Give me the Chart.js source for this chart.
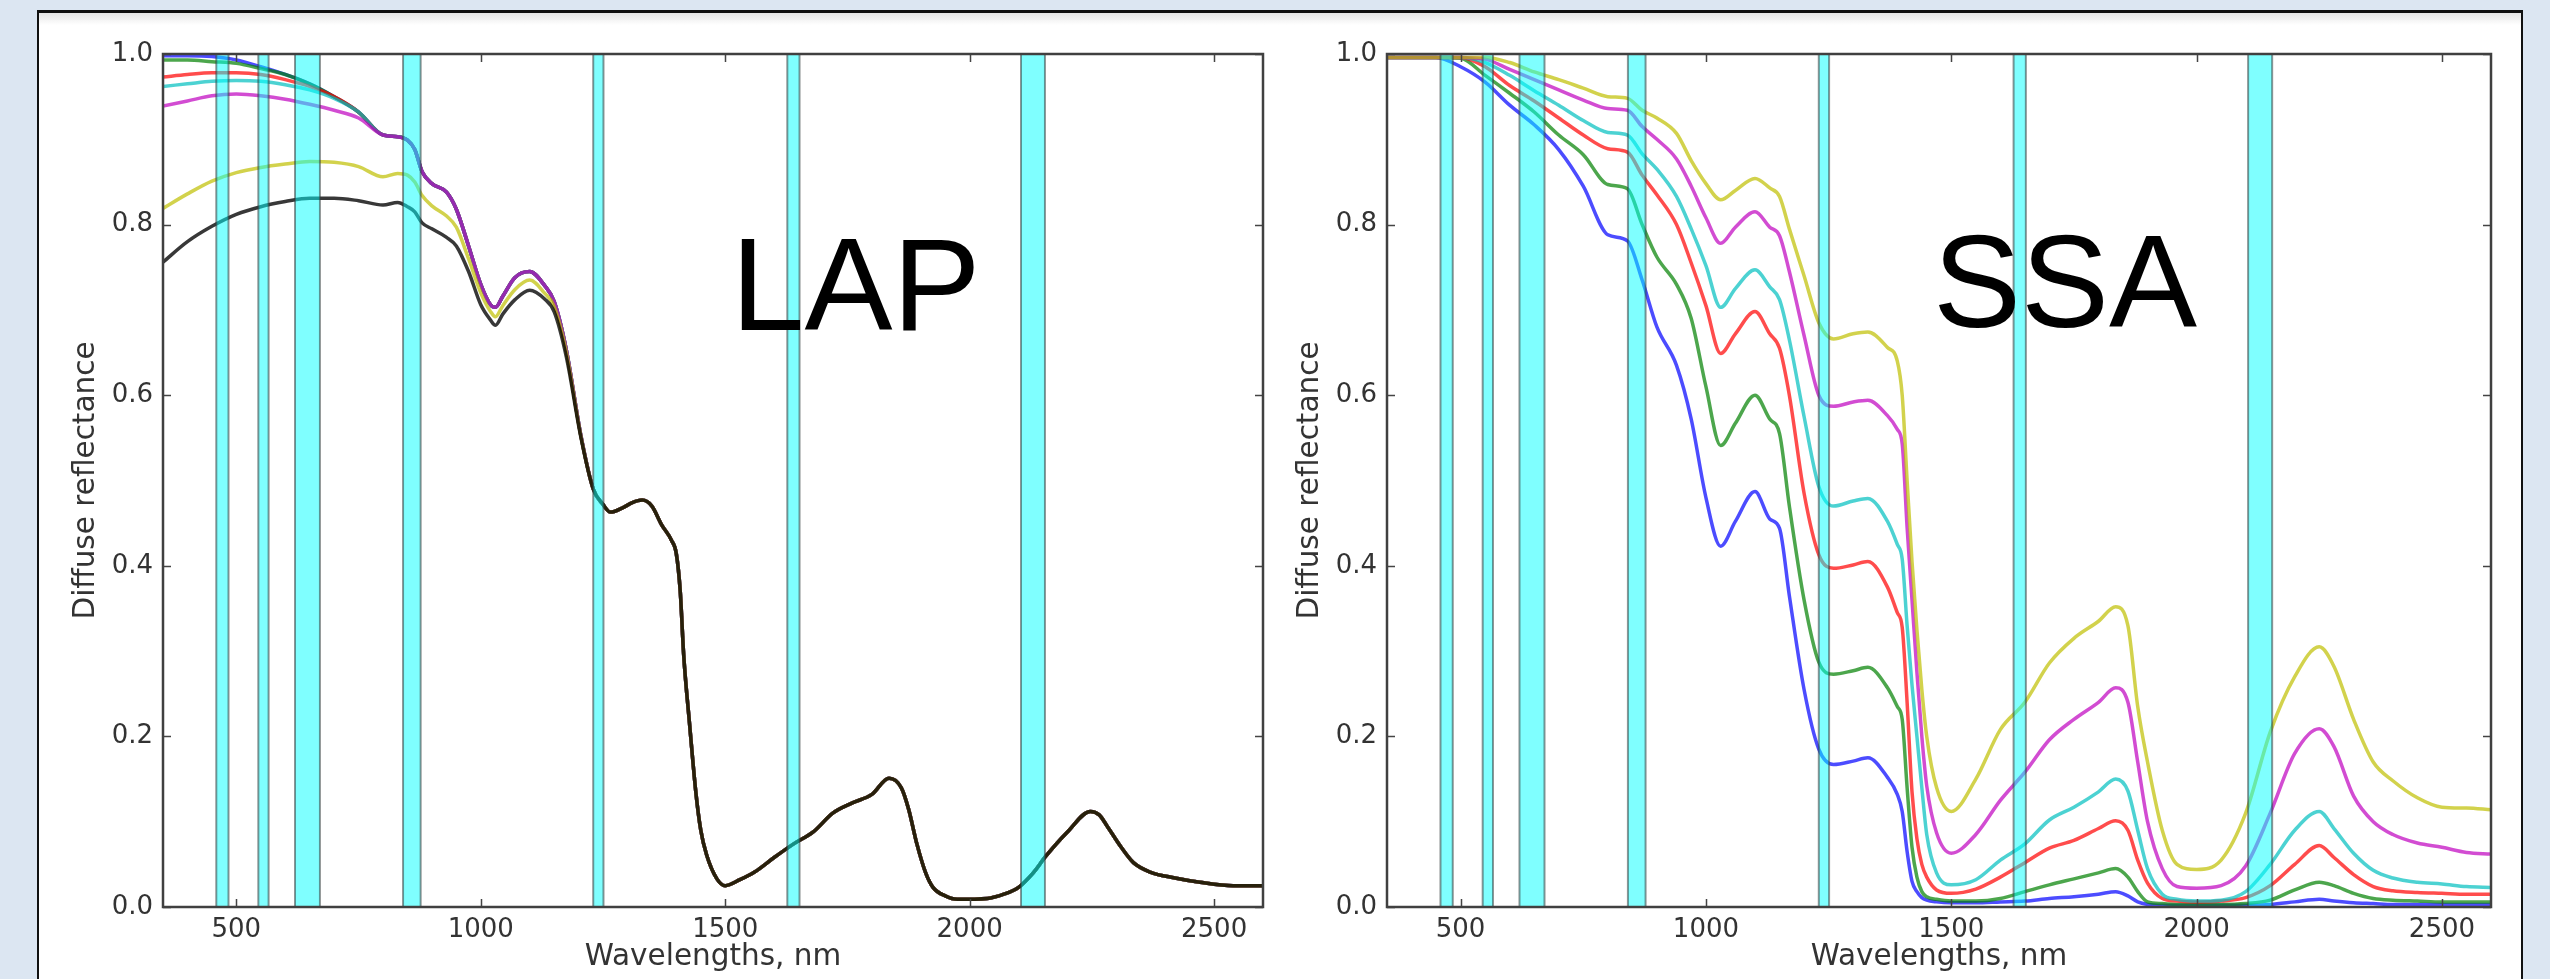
<!DOCTYPE html>
<html>
<head>
<meta charset="utf-8">
<script src="https://cdn.jsdelivr.net/npm/chart.js@4.4.1/dist/chart.umd.min.js"></script>
<style>
  html, body { margin: 0; padding: 0; }
  body { width: 2550px; height: 979px; overflow: hidden; background: #dce6f2; position: relative; }
  #panel { position: absolute; left: 37px; top: 10px; width: 2482px; height: 1000px;
           background: linear-gradient(#e6e6e6 0px, #ffffff 12px); border: 2px solid #111; border-top-width: 3px; }
  canvas { position: absolute; top: 20px; }
  #chartLAP { left: 40px; }
  #chartSSA { left: 1264px; }
  .tag { position: absolute; font-family: "Liberation Sans", Arial, sans-serif; font-size: 132px; line-height: 132px; color: #000; }
</style>
</head>
<body>
<div id="panel"></div>
<canvas id="chartLAP" width="1250" height="955"></canvas>
<canvas id="chartSSA" width="1254" height="955"></canvas>
<div class="tag" style="left:731px; top:219px;">LAP</div>
<div class="tag" style="left:1933px; top:216px;">SSA</div>

<script>
// Axes
const xTicks = [500, 1000, 1500, 2000, 2500];
const yTicks = [0, 0.2, 0.4, 0.6, 0.8, 1.0];

// MODIS-like bands (nm)
const bandLo = [459, 545, 620, 841, 1230, 1627, 2105];
const bandHi = [484, 566, 671, 877, 1251, 1652, 2154];

// LAP panel : visible part (curves differ)
const lapHeadWl = [350, 400, 450, 500, 550, 600, 650, 700, 750];
const lapBlueHead    = [0.998, 0.998, 0.997, 0.993, 0.985, 0.976, 0.965, 0.950, 0.932];
const lapGreenHead   = [0.993, 0.993, 0.991, 0.989, 0.983, 0.976, 0.965, 0.950, 0.932];
const lapRedHead     = [0.973, 0.976, 0.978, 0.978, 0.976, 0.970, 0.962, 0.950, 0.932];
const lapCyanHead    = [0.962, 0.965, 0.968, 0.969, 0.968, 0.964, 0.958, 0.948, 0.932];
const lapMagentaHead = [0.939, 0.945, 0.951, 0.953, 0.951, 0.947, 0.941, 0.934, 0.925];
const lapYellowHead  = [0.819, 0.836, 0.851, 0.861, 0.867, 0.871, 0.874, 0.873, 0.868];
const lapBlackHead   = [0.756, 0.780, 0.798, 0.812, 0.821, 0.827, 0.831, 0.831, 0.828];

// LAP panel : near infrared (three groups)
const lapMidWl = [800, 830, 850, 865, 880, 900, 930, 950, 975, 1000, 1020, 1030, 1045, 1070, 1100, 1130, 1150, 1175, 1205, 1230];
const lapBundleMid = [0.905, 0.903, 0.899, 0.888, 0.862, 0.848, 0.838, 0.818, 0.775, 0.730, 0.706, 0.703, 0.716, 0.738, 0.745, 0.729, 0.710, 0.653, 0.552, 0.490];
const lapYellowMid = [0.856, 0.860, 0.858, 0.850, 0.834, 0.822, 0.810, 0.797, 0.760, 0.720, 0.698, 0.692, 0.705, 0.724, 0.735, 0.720, 0.704, 0.650, 0.551, 0.490];
const lapBlackMid  = [0.823, 0.826, 0.821, 0.815, 0.802, 0.795, 0.785, 0.775, 0.745, 0.706, 0.688, 0.682, 0.695, 0.712, 0.723, 0.713, 0.698, 0.645, 0.550, 0.490];

// LAP panel : all curves on top of each other
const lapTailWl = [1250, 1265, 1290, 1310, 1330, 1350, 1370, 1390, 1400, 1408,
                   1415, 1427, 1440, 1450, 1462, 1483, 1500, 1530, 1560, 1600,
                   1640, 1680, 1720, 1760, 1800, 1835, 1860, 1875, 1892, 1910,
                   1925, 1950, 1975, 2036, 2070, 2100, 2130, 2155, 2200, 2247,
                   2265, 2281, 2310, 2335, 2369, 2420, 2471, 2539, 2600];
const lapTail = [0.472, 0.463, 0.468, 0.474, 0.477, 0.470, 0.448, 0.430, 0.414, 0.370,
                 0.296, 0.215, 0.134, 0.090, 0.061, 0.033, 0.025, 0.032, 0.041, 0.058,
                 0.074, 0.088, 0.110, 0.122, 0.132, 0.151, 0.140, 0.115, 0.074, 0.040,
                 0.023, 0.013, 0.009, 0.010, 0.015, 0.023, 0.040, 0.059, 0.088, 0.112,
                 0.108, 0.095, 0.070, 0.052, 0.041, 0.034, 0.029, 0.025, 0.025];

// SSA panel
const ssaWl = [350, 450, 500, 550, 600, 650, 700, 750, 800, 840,
               870, 900, 940, 970, 1000, 1030, 1060, 1100, 1130, 1150,
               1170, 1200, 1230, 1260, 1300, 1330, 1370, 1390, 1400, 1410,
               1420, 1430, 1440, 1450, 1470, 1500, 1550, 1600, 1650, 1700,
               1750, 1800, 1835, 1860, 1880, 1900, 1930, 1960, 2000, 2050,
               2100, 2150, 2200, 2250, 2280, 2320, 2360, 2400, 2450, 2500,
               2550, 2600];
const ssaBlue = [0.996, 0.996, 0.985, 0.967, 0.940, 0.917, 0.888, 0.845, 0.788, 0.781,
                 0.735, 0.680, 0.635, 0.572, 0.480, 0.423, 0.452, 0.487, 0.455, 0.444,
                 0.365, 0.255, 0.185, 0.167, 0.171, 0.175, 0.152, 0.132, 0.112, 0.065,
                 0.030, 0.018, 0.011, 0.008, 0.006, 0.005, 0.005, 0.006, 0.007, 0.010,
                 0.012, 0.015, 0.018, 0.013, 0.006, 0.003, 0.002, 0.002, 0.002, 0.002,
                 0.002, 0.003, 0.006, 0.009, 0.007, 0.005, 0.004, 0.003, 0.003, 0.003,
                 0.003, 0.003];
const ssaGreen = [0.996, 0.996, 0.995, 0.975, 0.954, 0.932, 0.905, 0.882, 0.847, 0.842,
                  0.800, 0.762, 0.730, 0.690, 0.610, 0.541, 0.567, 0.600, 0.572, 0.555,
                  0.470, 0.360, 0.287, 0.273, 0.277, 0.281, 0.257, 0.235, 0.220, 0.140,
                  0.070, 0.035, 0.018, 0.012, 0.009, 0.007, 0.007, 0.010, 0.018, 0.026,
                  0.033, 0.040, 0.045, 0.035, 0.018, 0.006, 0.004, 0.003, 0.003, 0.003,
                  0.004, 0.008, 0.020, 0.029, 0.025, 0.016, 0.010, 0.008, 0.007, 0.006,
                  0.006, 0.006];
const ssaRed = [0.996, 0.996, 0.996, 0.985, 0.963, 0.945, 0.925, 0.905, 0.889, 0.885,
                0.858, 0.835, 0.800, 0.755, 0.705, 0.649, 0.672, 0.698, 0.672, 0.655,
                0.600, 0.485, 0.413, 0.397, 0.401, 0.405, 0.375, 0.345, 0.328, 0.240,
                0.135, 0.080, 0.050, 0.035, 0.020, 0.016, 0.021, 0.035, 0.052, 0.069,
                0.078, 0.092, 0.101, 0.090, 0.055, 0.028, 0.010, 0.007, 0.006, 0.007,
                0.011, 0.025, 0.050, 0.072, 0.058, 0.038, 0.024, 0.019, 0.017, 0.016,
                0.015, 0.015];
const ssaCyan = [0.996, 0.996, 0.996, 0.990, 0.975, 0.957, 0.940, 0.922, 0.908, 0.905,
                 0.883, 0.865, 0.833, 0.795, 0.752, 0.703, 0.725, 0.747, 0.727, 0.712,
                 0.665, 0.575, 0.493, 0.470, 0.476, 0.479, 0.452, 0.425, 0.408, 0.330,
                 0.260, 0.200, 0.140, 0.085, 0.040, 0.026, 0.032, 0.055, 0.074, 0.102,
                 0.117, 0.135, 0.150, 0.136, 0.090, 0.045, 0.015, 0.009, 0.007, 0.008,
                 0.018, 0.050, 0.090, 0.112, 0.092, 0.063, 0.043, 0.034, 0.029, 0.027,
                 0.024, 0.023];
const ssaMagenta = [0.996, 0.996, 0.996, 0.994, 0.982, 0.970, 0.958, 0.946, 0.936, 0.934,
                    0.915, 0.900, 0.877, 0.845, 0.808, 0.778, 0.797, 0.815, 0.797, 0.787,
                    0.745, 0.670, 0.600, 0.587, 0.592, 0.594, 0.576, 0.560, 0.543, 0.445,
                    0.360, 0.275, 0.200, 0.142, 0.087, 0.063, 0.085, 0.125, 0.158, 0.196,
                    0.220, 0.240, 0.257, 0.240, 0.170, 0.100, 0.045, 0.024, 0.022, 0.025,
                    0.048, 0.110, 0.180, 0.209, 0.188, 0.130, 0.100, 0.085, 0.075, 0.070,
                    0.064, 0.062];
const ssaYellow = [0.996, 0.996, 0.996, 0.996, 0.990, 0.979, 0.970, 0.960, 0.950, 0.948,
                   0.934, 0.925, 0.907, 0.875, 0.848, 0.829, 0.840, 0.854, 0.843, 0.833,
                   0.795, 0.740, 0.685, 0.666, 0.672, 0.674, 0.656, 0.640, 0.600, 0.500,
                   0.405, 0.325, 0.255, 0.200, 0.140, 0.112, 0.150, 0.208, 0.240, 0.286,
                   0.315, 0.335, 0.352, 0.330, 0.235, 0.170, 0.090, 0.050, 0.044, 0.055,
                   0.110, 0.205, 0.270, 0.305, 0.282, 0.220, 0.170, 0.148, 0.128, 0.117,
                   0.116, 0.114];

// matplotlib "classic" colours, a bit transparent
const lineColors = {
  b: "rgba(0,0,255,0.7)", g: "rgba(0,128,0,0.7)", r: "rgba(255,0,0,0.7)",
  c: "rgba(0,191,191,0.7)", m: "rgba(191,0,191,0.7)", y: "rgba(191,191,0,0.7)",
  k: "rgba(0,0,0,0.78)"
};

const lapWl = [...lapHeadWl, ...lapMidWl, ...lapTailWl];
const lapSeries = [
  { c: "b", y: [...lapBlueHead, ...lapBundleMid, ...lapTail] },
  { c: "g", y: [...lapGreenHead, ...lapBundleMid, ...lapTail] },
  { c: "r", y: [...lapRedHead, ...lapBundleMid, ...lapTail] },
  { c: "c", y: [...lapCyanHead, ...lapBundleMid, ...lapTail] },
  { c: "m", y: [...lapMagentaHead, ...lapBundleMid, ...lapTail] },
  { c: "y", y: [...lapYellowHead, ...lapYellowMid, ...lapTail] },
  { c: "k", y: [...lapBlackHead, ...lapBlackMid, ...lapTail] },
];
const ssaSeries = [
  { c: "b", y: ssaBlue }, { c: "g", y: ssaGreen }, { c: "r", y: ssaRed },
  { c: "c", y: ssaCyan }, { c: "m", y: ssaMagenta }, { c: "y", y: ssaYellow },
];

const tickFont = { family: "'DejaVu Sans', sans-serif", size: 26 };
const titleFont = { family: "'DejaVu Sans', sans-serif", size: 29.5 };

// cyan bands, drawn over the curves like axvspan
const bandPlugin = {
  id: "bands",
  afterDatasetsDraw(chart) {
    const { ctx, chartArea: a, scales: { x } } = chart;
    ctx.save();
    ctx.beginPath();
    ctx.rect(a.left, a.top, a.width, a.height);
    ctx.clip();
    bandLo.forEach((lo, i) => {
      const x0 = x.getPixelForValue(lo);
      const x1 = x.getPixelForValue(bandHi[i]);
      ctx.fillStyle = "rgba(0,255,255,0.5)";
      ctx.fillRect(x0, a.top, x1 - x0, a.height);
      ctx.strokeStyle = "rgba(50,60,60,0.55)";
      ctx.lineWidth = 2;
      ctx.strokeRect(x0, a.top, x1 - x0, a.height);
    });
    ctx.restore();
  }
};

// box + inward ticks on four sides
const framePlugin = {
  id: "frame",
  afterDraw(chart) {
    const { ctx, chartArea: a, scales: { x, y } } = chart;
    ctx.save();
    ctx.strokeStyle = "#444";
    ctx.lineWidth = 1.5;
    ctx.beginPath();
    xTicks.forEach(v => {
      const px = Math.round(x.getPixelForValue(v)) + 0.5;
      ctx.moveTo(px, a.bottom); ctx.lineTo(px, a.bottom - 8);
      ctx.moveTo(px, a.top); ctx.lineTo(px, a.top + 8);
    });
    yTicks.forEach(v => {
      const py = Math.round(y.getPixelForValue(v)) + 0.5;
      ctx.moveTo(a.left, py); ctx.lineTo(a.left + 8, py);
      ctx.moveTo(a.right, py); ctx.lineTo(a.right - 8, py);
    });
    ctx.stroke();
    ctx.lineWidth = 2.5;
    ctx.strokeStyle = "#404040";
    ctx.strokeRect(a.left, a.top, a.right - a.left, a.bottom - a.top);
    ctx.restore();
  }
};

function buildChart(id, wl, series) {
  // matplotlib draws the last series on top, Chart.js the first one
  const datasets = series.map(s => ({
    data: wl.map((w, i) => ({ x: w, y: s.y[i] })),
    borderColor: lineColors[s.c],
    borderWidth: 3.5,
    pointRadius: 0,
    fill: false,
    cubicInterpolationMode: "monotone"
  })).reverse();

  return new Chart(document.getElementById(id), {
    type: "line",
    data: { datasets },
    options: {
      responsive: false,
      animation: false,
      devicePixelRatio: 1,
      layout: { padding: { top: 34, right: 27, left: 0, bottom: 0 } },
      plugins: { legend: { display: false }, tooltip: { enabled: false } },
      scales: {
        x: {
          type: "linear", min: 350, max: 2600,
          afterBuildTicks: s => { s.ticks = xTicks.map(v => ({ value: v })); },
          afterFit: s => { s.height = 68; },
          grid: { display: false, drawTicks: false },
          border: { display: false },
          ticks: { callback: v => String(v), font: tickFont, color: "#333", padding: 8, maxRotation: 0, autoSkip: false },
          title: { display: true, text: "Wavelengths, nm", font: titleFont, color: "#333", padding: { top: 0, bottom: 0 } }
        },
        y: {
          type: "linear", min: 0, max: 1,
          afterBuildTicks: s => { s.ticks = yTicks.map(v => ({ value: v })); },
          afterFit: s => { s.width = 123; },
          grid: { display: false, drawTicks: false },
          border: { display: false },
          ticks: { callback: v => v.toFixed(1), font: tickFont, color: "#333", padding: 10, autoSkip: false },
          title: { display: true, text: "Diffuse reflectance", font: titleFont, color: "#333", padding: { top: 29, bottom: 0 } }
        }
      }
    },
    plugins: [bandPlugin, framePlugin]
  });
}

buildChart("chartLAP", lapWl, lapSeries);
buildChart("chartSSA", ssaWl, ssaSeries);
</script>
</body>
</html>
